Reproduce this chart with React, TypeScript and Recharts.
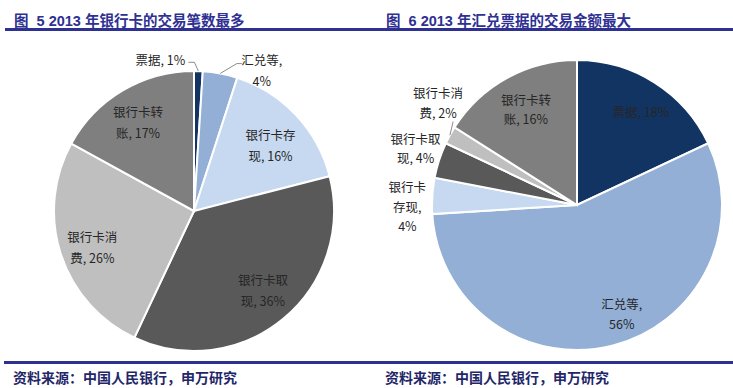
import React from "react";
import { PieChart, Pie, Cell } from "recharts";

// 2013 shares by payment instrument
const categories = ["票据", "汇兑等", "银行卡存现", "银行卡取现", "银行卡消费", "银行卡转账"];
const countShare = [1, 4, 16, 36, 26, 17];
const amountShare = [18, 56, 4, 4, 2, 16];

const countLabels = [
  ["票据, 1%"],
  ["汇兑等,", "4%"],
  ["银行卡存", "现, 16%"],
  ["银行卡取", "现, 36%"],
  ["银行卡消", "费, 26%"],
  ["银行卡转", "账, 17%"]
];
const amountLabels = [
  ["票据, 18%"],
  ["汇兑等,", "56%"],
  ["银行卡", "存现,", "4%"],
  ["银行卡取", "现, 4%"],
  ["银行卡消", "费, 2%"],
  ["银行卡转", "账, 16%"]
];

const colors = ["#123462", "#93AFD6", "#C6D9F0", "#595959", "#BFBFBF", "#7F7F7F"];

// label placement: radius ratio, angle nudge (deg, clockwise), leader offsets from label centre
type Place = { r: number; n: number; lead?: number[][] };
const countPlace: Place[] = [
  { r: 1.11, n: -14.3, lead: [[34, 3], [28, 3]] },
  { r: 1.12, n: 14.8, lead: [[-25, -6], [-20, -6]] },
  { r: 0.72, n: 2.6 },
  { r: 0.75, n: -1.4 },
  { r: 0.77, n: -1.4 },
  { r: 0.75, n: -1.6 }
];
const amountPlace: Place[] = [
  { r: 0.78, n: 2 },
  { r: 0.81, n: -8 },
  { r: 1.17, n: -4 },
  { r: 1.18, n: 1.4 },
  { r: 1.19, n: 7.6, lead: [[15, 19]] },
  { r: 0.75, n: 0.8 }
];

const countData = categories.map((name, i) => ({ name, value: countShare[i] }));
const amountData = categories.map((name, i) => ({ name, value: amountShare[i] }));

const FONT = "'Liberation Sans', 'Noto Sans CJK SC', sans-serif";
const NAVY = "#2E3092";

function makeLabel(lines: string[][], place: Place[], lineH: number) {
  return (props: any) => {
    const { cx, cy, midAngle, outerRadius, index } = props;
    const p = place[index];
    const rad = Math.PI / 180;
    const th = (90 - midAngle + p.n) * rad;
    const x = cx + outerRadius * p.r * Math.sin(th);
    const y = cy - outerRadius * p.r * Math.cos(th);
    const mid = (90 - midAngle) * rad;
    const ex = cx + outerRadius * Math.sin(mid);
    const ey = cy - outerRadius * Math.cos(mid);
    const ls = lines[index];
    const pts = p.lead
      ? [[ex, ey], ...p.lead.map(([dx, dy]) => [x + dx, y + dy])]
      : null;
    return (
      <g>
        {pts && (
          <polyline
            points={pts.map((q) => q.join(",")).join(" ")}
            fill="none"
            stroke="#8C8C8C"
            strokeWidth={1}
          />
        )}
        {ls.map((t, i) => (
          <text
            key={i}
            x={x}
            y={y + (i - (ls.length - 1) / 2) * lineH}
            textAnchor="middle"
            dominantBaseline="central"
            fontSize={12.5}
            fontFamily="'Noto Sans CJK SC', sans-serif"
            fill="#262626"
          >
            {t}
          </text>
        ))}
      </g>
    );
  };
}

export default function App() {
  const titleStyle: React.CSSProperties = {
    position: "absolute",
    top: 9,
    fontFamily: FONT,
    fontWeight: "bold",
    fontSize: 14.5,
    color: NAVY,
    whiteSpace: "pre"
  };
  const srcStyle: React.CSSProperties = {
    position: "absolute",
    top: 367,
    fontFamily: "'Noto Sans CJK SC', sans-serif",
    fontWeight: "bold",
    fontSize: 14,
    lineHeight: "20px",
    color: "#1F2768",
    whiteSpace: "pre"
  };
  return (
    <div style={{ position: "absolute", left: 0, top: 0, width: 733, height: 388, background: "#fff", overflow: "hidden" }}>
      <div style={{ ...titleStyle, left: 14 }}>图  5 2013 年银行卡的交易笔数最多</div>
      <div style={{ ...titleStyle, left: 386 }}>图  6 2013 年汇兑票据的交易金额最大</div>
      <div style={{ position: "absolute", left: 5, top: 28, width: 728, height: 3, background: NAVY }} />
      <div style={{ position: "absolute", left: 4, top: 361, width: 729, height: 3, background: NAVY }} />
      <div style={{ ...srcStyle, left: 13 }}>资料来源：中国人民银行，申万研究</div>
      <div style={{ ...srcStyle, left: 385 }}>资料来源：中国人民银行，申万研究</div>
      <div style={{ position: "absolute", left: 0, top: 0 }}>
        <PieChart width={733} height={388}>
          <Pie
            data={countData}
            dataKey="value"
            nameKey="name"
            cx={189}
            cy={206}
            outerRadius={140}
            startAngle={90}
            endAngle={-270}
            stroke="#fff"
            strokeWidth={2}
            labelLine={false}
            label={makeLabel(countLabels, countPlace, 21)}
            isAnimationActive={false}
          >
            {countData.map((d, i) => (
              <Cell key={d.name} fill={colors[i]} />
            ))}
          </Pie>
          <Pie
            data={amountData}
            dataKey="value"
            nameKey="name"
            cx={572}
            cy={200}
            outerRadius={145}
            startAngle={90}
            endAngle={-270}
            stroke="#fff"
            strokeWidth={2}
            labelLine={false}
            label={makeLabel(amountLabels, amountPlace, 19.5)}
            isAnimationActive={false}
          >
            {amountData.map((d, i) => (
              <Cell key={d.name} fill={colors[i]} />
            ))}
          </Pie>
        </PieChart>
      </div>
    </div>
  );
}
